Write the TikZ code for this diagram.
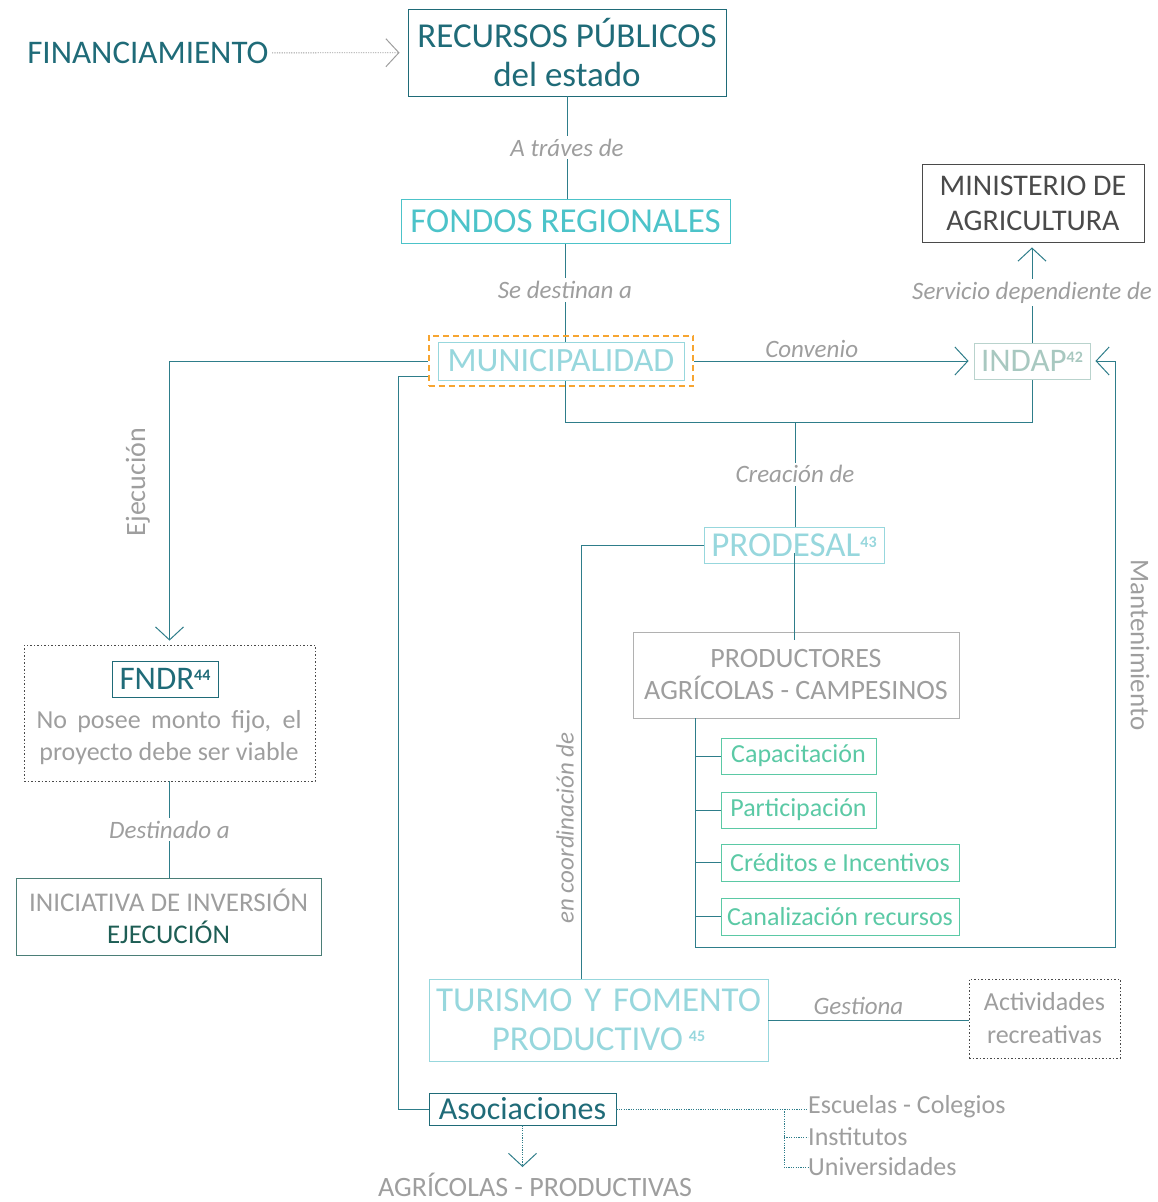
\documentclass[tikz,border=0pt]{standalone}
\usepackage{fontspec}
\setmainfont{Carlito}
\usepackage{xcolor}
\usepackage{tikz}
\usetikzlibrary{positioning,arrows.meta,fit,calc,backgrounds}
\definecolor{deep}{HTML}{1F6B78}
\definecolor{aqua}{HTML}{4CC3C9}
\definecolor{pale}{HTML}{97D7DD}
\definecolor{sage}{HTML}{A8C8C0}
\definecolor{mint}{HTML}{5BC9A5}
\definecolor{slate}{HTML}{4A4A4A}
\definecolor{ash}{HTML}{9E9E9E}
\definecolor{wire}{HTML}{2E7D8A}
\definecolor{amber}{HTML}{F7A531}
\definecolor{pine}{HTML}{1E5E55}
\newcommand{\sz}[1]{\fontsize{#1}{#1}\selectfont}
\newcommand{\sups}[1]{\raisebox{0.55ex}{\sz{16}\bfseries #1}}

\begin{document}
\begin{tikzpicture}[
  x=1pt, y=-1pt,
  font=\sz{26},
  box/.style  = {draw, inner sep=0pt, align=center, line width=0.9pt},
  lbl/.style  = {font=\itshape\sz{25}, text=ash, fill=white, inner sep=3pt},
  side/.style = {font=\sz{28}, text=ash},
  flow/.style = {draw=wire, line width=0.9pt},
  tip/.style  = {-{Straight Barb[length=13pt,width=28pt,line width=1pt]}},
  dots/.style = {draw=wire, line width=0.9pt, dash pattern=on 1.2pt off 1.2pt},
]
\useasboundingbox (0,0) rectangle (1158,1202);

% ---- top: funding chain ----------------------------------------------
\node[anchor=east, text=deep, font=\sz{33}] (fin) at (272,53) {FINANCIAMIENTO};
\node[box, draw=deep, text=deep, font=\sz{35}, minimum width=318pt, minimum height=87pt]
  (rec) at (567,52.5) {RECURSOS PÚBLICOS\\[4pt]del estado};
\node[box, draw=aqua, text=aqua, font=\sz{35}, minimum width=329pt, minimum height=44pt]
  (fon) at (565.5,221) {FONDOS REGIONALES};
\node[box, draw=pale, text=pale, fill=white, font=\sz{34}, minimum width=246pt, minimum height=38pt]
  (mun) at (561,361) {MUNICIPALIDAD};
\node[draw=amber, dash pattern=on 6pt off 4pt, line width=2pt, inner xsep=9pt, inner ysep=6pt, fit=(mun)]
  (munf) {};

% ---- right: INDAP and ministry ---------------------------------------
\node[box, draw=sage!80, text=sage, font=\sz{33}, minimum width=116pt, minimum height=36pt]
  (ind) at (1032,361) {INDAP\sups{42}};
\node[box, draw=slate, text=slate, font=\sz{30}, minimum width=222pt, minimum height=78pt]
  (min) at (1033,203) {MINISTERIO DE\\[5pt]AGRICULTURA};

% ---- PRODESAL and producers ------------------------------------------
\node[box, draw=pale, text=pale, font=\sz{35}, minimum width=180pt, minimum height=36pt]
  (prd) at (794,545) {PRODESAL\sups{43}};
\node[box, draw=ash!80, text=ash, font=\sz{28}, minimum width=326pt, minimum height=86pt]
  (pro) at (796,675) {PRODUCTORES\\[4pt]AGRÍCOLAS - CAMPESINOS};
\node[box, draw=mint, text=mint, minimum width=155pt, minimum height=36pt] (cap) at (798.5,756) {Capacitación};
\node[box, draw=mint, text=mint, minimum width=155pt, minimum height=36pt] (par) at (798.5,810) {Participación};
\node[box, draw=mint, text=mint, minimum width=238pt, minimum height=37pt] (cre) at (840,862.5) {Créditos e Incentivos};
\node[box, draw=mint, text=mint, minimum width=238pt, minimum height=37pt] (can) at (840,916.5) {Canalización recursos};

% ---- left: FNDR ------------------------------------------------------
\node[draw=slate, line width=0.8pt, dash pattern=on 1.5pt off 2pt, minimum width=291pt, minimum height=136pt]
  (fndr) at (169.5,713) {};
\node[box, draw=deep, text=deep, font=\sz{33}, minimum width=106pt, minimum height=36pt]
  (fndl) at (165,679) {FNDR\sups{44}};
\node[text=ash, font=\sz{26}, align=center] (fndt) at (169,738)
  {\makebox[265pt][s]{No posee monto fijo, el}\\[6pt]proyecto debe ser viable};
\node[box, draw=pine!80, text=ash, font=\sz{27}, minimum width=305pt, minimum height=77pt]
  (ini) at (168.5,916.5) {INICIATIVA DE INVERSIÓN\\[5pt]\textcolor{pine}{EJECUCIÓN}};

% ---- bottom: tourism and associations --------------------------------
\node[box, draw=pale, text=pale, font=\sz{35}, minimum width=339pt, minimum height=82pt]
  (tur) at (598.5,1020) {\makebox[325pt][s]{TURISMO Y FOMENTO}\\[4pt]PRODUCTIVO\,\sups{45}};
\node[draw=slate, line width=0.8pt, dash pattern=on 1.5pt off 2pt, text=ash, font=\sz{26}, align=center,
  minimum width=151pt, minimum height=79pt] (act) at (1044.5,1018.5) {Actividades\\[7pt]recreativas};
\node[box, draw=deep, text=deep, font=\sz{32}, minimum width=187pt, minimum height=32pt]
  (aso) at (522.5,1109) {Asociaciones};
\node[anchor=west, text=ash, inner sep=0pt] (esc) at (808,1107) {Escuelas - Colegios};
\node[anchor=west, text=ash, inner sep=0pt] (ins) at (808,1137) {Institutos};
\node[anchor=west, text=ash, inner sep=0pt] (uni) at (808,1167) {Universidades};
\node[text=ash, font=\sz{28}, inner sep=0pt] (agr) at (535,1185) {AGRÍCOLAS - PRODUCTIVAS};

% ---- junctions -------------------------------------------------------
\coordinate (jn) at (795,422);
\coordinate (tr) at (695,718);
\coordinate (mt) at (1115,947);
\coordinate (br) at (784,1109);

% ---- edges -----------------------------------------------------------
\draw[dots, draw=ash, tip, shorten >=8pt] (fin) -- (rec);
\draw[flow] (rec.south) -- (rec.south |- fon.north) node[lbl, midway] {A tráves de};
\begin{scope}[on background layer]
  \draw[flow] (fon.south) -- (fon.south |- jn) -- (ind.south |- jn) -- (ind.south);
\end{scope}
\node[lbl] at (565,290) {Se destinan a};
\draw[flow, tip, shorten >=5pt] (munf.east) -- (ind.west)
  node[lbl, fill=none, pos=0.42, above=0pt] {Convenio};
\draw[flow, tip, shorten >=5pt] (ind.north) -- (ind.north |- min.south)
  node[lbl, midway] {Servicio dependiente de};
\draw[flow] (jn) -- (jn |- prd.north) node[lbl, midway] {Creación de};
\draw[flow] ([yshift=-8pt]prd.center) -- ([yshift=-8pt]prd.center |- pro.north);

% maintenance loop back into INDAP
\draw[flow, tip, shorten >=5pt] (tr) |- (mt) |- (ind.east);
\foreach \n in {cap,par,cre,can}
  \draw[flow] (tr |- \n.west) -- (\n.west);
\node[side, font=\sz{27}, rotate=-90] at (1140,645) {Mantenimiento};

% execution through the FNDR
\draw[flow, tip, shorten >=4pt] (munf.west) -| (fndr.north);
\node[side, rotate=90] at (138,482) {Ejecución};
\draw[flow] (fndr.south) -- (fndr.south |- ini.north) node[lbl, midway] {Destinado a};

% coordination and associations
\draw[flow] (prd.west) -| ([xshift=-17.5pt]tur.north);
\node[lbl, fill=none, rotate=90] at (565,828) {en coordinación de};
\draw[flow] ([yshift=-15pt]munf.west) -- ++(-29,0) |- (aso.west);
\draw[flow] (tur.east) -- (tur.east -| act.west) node[lbl, fill=none, pos=0.45, above=2pt] {Gestiona};
\draw[dots] (aso.east) -- (esc.west |- aso.east);
\draw[dots] (br) |- (uni.west);
\draw[dots] (br |- ins.west) -- (ins.west);
\draw[dots, tip, shorten >=6pt] (aso.south) -- (aso.south |- agr.north);

\end{tikzpicture}
\end{document}
